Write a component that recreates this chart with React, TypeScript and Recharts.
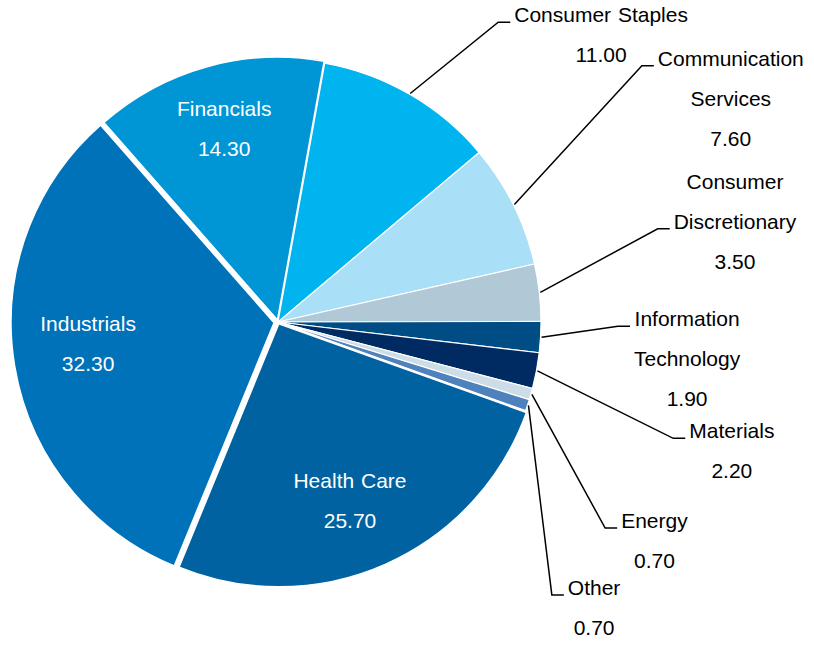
import { PieChart, Pie, Cell } from 'recharts';

const categories = [
  'Financials',
  'Consumer Staples',
  'Communication Services',
  'Consumer Discretionary',
  'Information Technology',
  'Materials',
  'Energy',
  'Other',
  'Health Care',
  'Industrials',
];
const weights = [14.3, 11.0, 7.6, 3.5, 1.9, 2.2, 0.7, 0.7, 25.7, 32.3];
const colors = [
  '#0096D6',
  '#00B5EF',
  '#A9DFF7',
  '#B1C8D6',
  '#004C85',
  '#002B62',
  '#CCDDE8',
  '#4F81BD',
  '#0062A0',
  '#0072BA',
];

// slices pulled out from the centre (px)
const explode: Record<string, number> = { Financials: 2, 'Health Care': 2, Industrials: 4 };

// labels drawn inside the slice: distance from centre and angle nudge (deg, clockwise)
const inside: Record<string, { r: number; nudge: number }> = {
  Financials: { r: 199, nudge: 0 },
  'Health Care': { r: 190, nudge: 2 },
  Industrials: { r: 187, nudge: 3.4 },
};

// leader line elbows: radius from pie centre, angle clockwise from 12 o'clock
const leaders: Record<string, { r: number; angle: number; lines: string[]; anchor: number }> = {
  'Consumer Staples': { r: 372, angle: 36.3, lines: ['Consumer Staples'], anchor: 0 },
  'Communication Services': { r: 445, angle: 54.85, lines: ['Communication', 'Services'], anchor: 0 },
  'Consumer Discretionary': { r: 391, angle: 76.2, lines: ['Consumer', 'Discretionary'], anchor: 1 },
  'Information Technology': { r: 340, angle: 90.7, lines: ['Information', 'Technology'], anchor: 0 },
  Materials: { r: 412, angle: 106.4, lines: ['Materials'], anchor: 0 },
  Energy: { r: 386.6, angle: 122.2, lines: ['Energy'], anchor: 0 },
  Other: { r: 386.6, angle: 134.9, lines: ['Other'], anchor: 0 },
};

const data = categories.map((name, i) => ({ name, value: weights[i] }));

const W = 814;
const H = 645;
const CX = 278;
const CY = 322;
const R = 263;
const START = 131.3;
const END = START - 360;
const FONT = '"Liberation Sans", Arial, sans-serif';
const FS = 21;
const WORD_SP = 1;
const LINE_H = 40;
const RAD = Math.PI / 180;

const total = weights.reduce((a, b) => a + b, 0);

function offsetFor(name: string) {
  const d = explode[name] || 0;
  if (!d) return { dx: 0, dy: 0 };
  const i = categories.indexOf(name);
  const before = weights.slice(0, i).reduce((a, b) => a + b, 0);
  const mid = START - ((before + weights[i] / 2) / total) * 360;
  return { dx: d * Math.cos(mid * RAD), dy: -d * Math.sin(mid * RAD) };
}

const ctx = typeof document !== 'undefined' ? document.createElement('canvas').getContext('2d') : null;
function textWidth(s: string) {
  const spaces = s.split(' ').length - 1;
  if (!ctx) return s.length * 10 + spaces * WORD_SP;
  ctx.font = `${FS}px ${FONT}`;
  return ctx.measureText(s).width + spaces * WORD_SP;
}

function renderLabel(props: any) {
  const { cx, cy, midAngle, index } = props;
  const name = categories[index];
  const val = weights[index].toFixed(2);
  const inn = inside[name];
  if (inn) {
    const o = offsetFor(name);
    const a = midAngle - inn.nudge;
    const x = cx + inn.r * Math.cos(a * RAD) + o.dx;
    const y = cy - inn.r * Math.sin(a * RAD) + o.dy;
    return (
      <g key={`lbl-${index}`}>
        <text x={x} y={y - 12} textAnchor="middle" fill="#fff" fontSize={FS} fontFamily={FONT} style={{ wordSpacing: WORD_SP }}>
          {name}
        </text>
        <text x={x} y={y + 28} textAnchor="middle" fill="#fff" fontSize={FS} fontFamily={FONT}>
          {val}
        </text>
      </g>
    );
  }
  const l = leaders[name];
  if (!l) return null;
  const sx = cx + (R + 1) * Math.cos(midAngle * RAD);
  const sy = cy - (R + 1) * Math.sin(midAngle * RAD);
  const ex = cx + l.r * Math.sin(l.angle * RAD);
  const ey = cy - l.r * Math.cos(l.angle * RAD);
  const hx = ex + 12;
  const allLines = [...l.lines, val];
  const maxW = Math.max(...l.lines.map(textWidth));
  const centerX = hx + 4 + maxW / 2;
  return (
    <g key={`lbl-${index}`}>
      <polyline points={`${sx},${sy} ${ex},${ey} ${hx},${ey}`} fill="none" stroke="#000" strokeWidth={1.5} />
      {allLines.map((t, k) => (
        <text
          key={k}
          x={centerX}
          y={ey + (k - l.anchor) * LINE_H}
          textAnchor="middle"
          fill="#000"
          fontSize={FS}
          fontFamily={FONT}
          style={{ wordSpacing: WORD_SP }}
        >
          {t}
        </text>
      ))}
    </g>
  );
}

export default function App() {
  const explodedNames = Object.keys(explode);
  return (
    <div style={{ position: 'absolute', left: 0, top: 0, width: W, height: H, background: '#fff' }}>
      <PieChart width={W} height={H} margin={{ top: 0, right: 0, bottom: 0, left: 0 }}>
        {explodedNames.map(en => {
          const o = offsetFor(en);
          return (
            <Pie
              key={en}
              data={data}
              dataKey="value"
              nameKey="name"
              cx={CX + o.dx}
              cy={CY + o.dy}
              outerRadius={R}
              startAngle={START}
              endAngle={END}
              isAnimationActive={false}
              labelLine={false}
            >
              {data.map((d, i) => (
                <Cell
                  key={d.name}
                  fill={d.name === en ? colors[i] : 'none'}
                  stroke={d.name === en ? '#fff' : 'none'}
                  strokeWidth={1.5}
                />
              ))}
            </Pie>
          );
        })}
        <Pie
          data={data}
          dataKey="value"
          nameKey="name"
          cx={CX}
          cy={CY}
          outerRadius={R}
          startAngle={START}
          endAngle={END}
          isAnimationActive={false}
          labelLine={false}
          label={renderLabel}
        >
          {data.map((d, i) => (
            <Cell
              key={d.name}
              fill={explode[d.name] ? 'none' : colors[i]}
              stroke={explode[d.name] ? 'none' : '#fff'}
              strokeWidth={1.2}
            />
          ))}
        </Pie>
      </PieChart>
    </div>
  );
}
